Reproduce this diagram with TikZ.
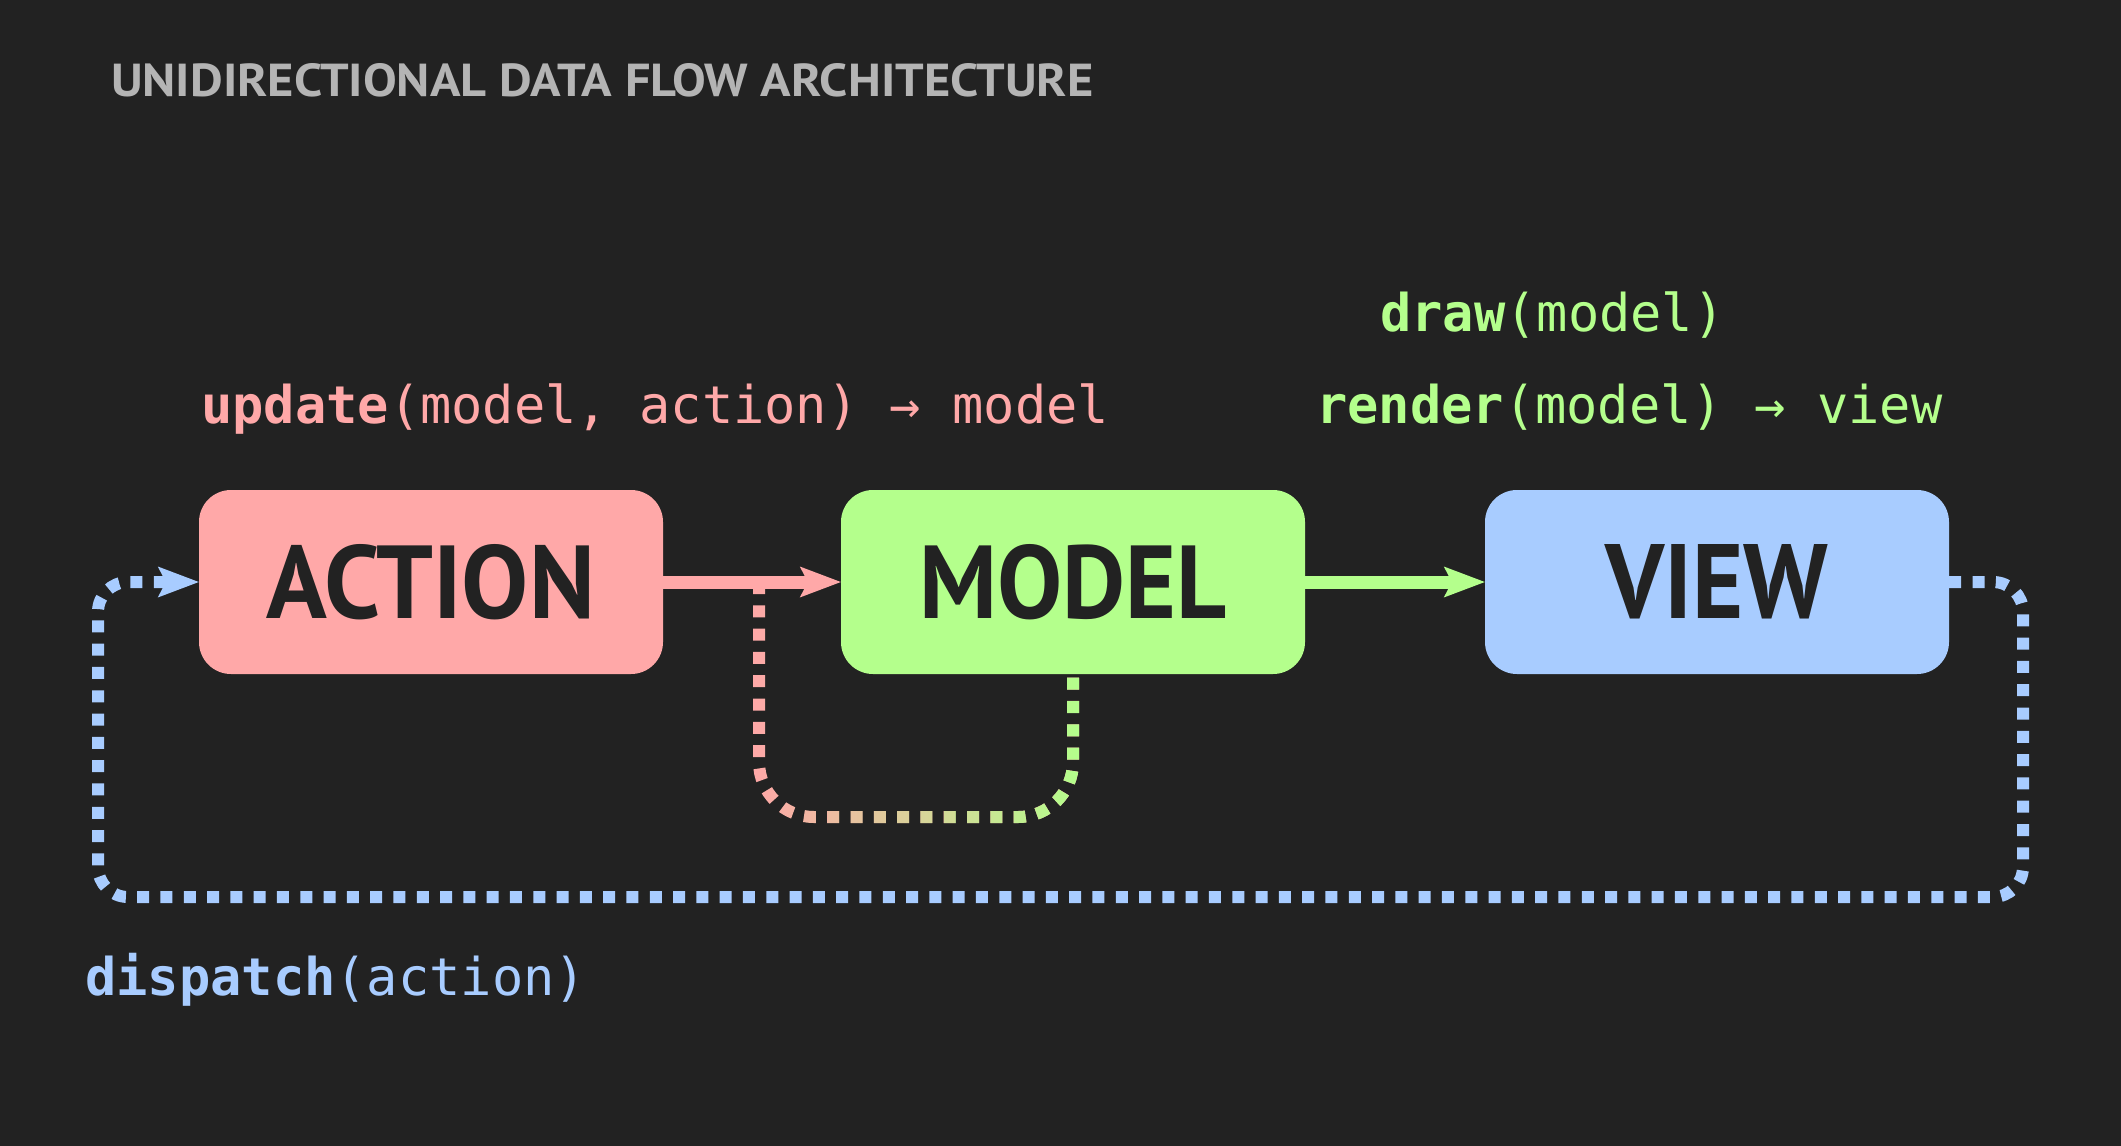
\documentclass[tikz,border=0pt]{standalone}
\usepackage{fontspec}
\usepackage{graphicx}
\setmainfont{PT Sans}
\newfontfamily\codefont{DejaVu Sans Mono}
\newfontfamily\headfont{PT Sans}
\usetikzlibrary{arrows.meta,fadings}
\definecolor{bgc}{HTML}{222222}
\definecolor{pinkc}{HTML}{FFA8A8}
\definecolor{greenc}{HTML}{B4FF8C}
\definecolor{bluec}{HTML}{A8CCFF}
\definecolor{titlec}{HTML}{B4B4B4}
\definecolor{inkc}{HTML}{222222}
\tikzfading[name=pgfade, left color=transparent!100, middle color=transparent!0, right color=transparent!0]
\begin{document}
\begin{tikzpicture}[x=1pt, y=-1pt,
  box/.style={rounded corners=32pt, minimum width=464pt, minimum height=184pt,
    inner sep=0pt, text=inkc, font=\headfont\bfseries},
  code/.style={anchor=base west, inner sep=0pt, font=\codefont\fontsize{52}{62}\selectfont},
  tip/.style={-{Stealth[length=41pt, width=31pt, inset=8pt, line width=0pt]}},
  solidarrow/.style={line width=13pt, tip},
  dotline/.style={line width=12pt, dash pattern=on 12pt off 11.3pt, line cap=butt}
]
\fill[bgc] (0,0) rectangle (2121,1146);
\useasboundingbox (0,0) rectangle (2121,1146);

% title
\node[anchor=base west, inner sep=0pt, text=titlec, font=\headfont\bfseries] (title) at (111,96)
  {\resizebox{982pt}{33pt}{UNIDIRECTIONAL DATA FLOW ARCHITECTURE}};

% boxes
\node[box, fill=pinkc] (action) at (431,582) {\resizebox{328pt}{74pt}{ACTION}};
\node[box, fill=greenc] (model) at (1073,582) {\resizebox{307pt}{74pt}{MODEL}};
\node[box, fill=bluec] (view) at (1717,582) {\resizebox{223pt}{74pt}{VIEW}};

% code labels
\node[code, text=pinkc] (upd) at (201,423) {\textbf{update}(model, action) → model};
\node[code, text=greenc] (drw) at (1380,331) {\textbf{draw}(model)};
\node[code, text=greenc] (rnd) at (1316,423) {\textbf{render}(model) → view};
\node[code, text=bluec] (dsp) at (85,995) {\textbf{dispatch}(action)};

% feedback loop update -> model
\coordinate (tap) at (759,582);
\draw[dotline, draw=pinkc, rounded corners=55pt]
  (tap) -- (759,817) -- (1073,817) -- (model.south);
\draw[dotline, draw=greenc, rounded corners=55pt, path fading=pgfade]
  (tap) -- (759,817) -- (1073,817) -- (model.south);

% main arrows
\draw[solidarrow, draw=pinkc, fill=pinkc] (action.east) -- (model.west);
\draw[solidarrow, draw=greenc, fill=greenc] (model.east) -- (view.west);

% dispatch loop
\draw[dotline, draw=bluec, rounded corners=30pt, tip, fill=none]
  (view.east) -- (2023,582) -- (2023,897) -- (98,897) -- (98,582) -- (action.west);
\end{tikzpicture}
\end{document}
